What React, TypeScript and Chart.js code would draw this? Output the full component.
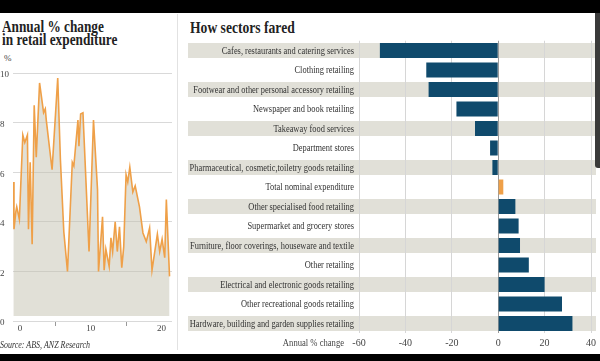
import React, { useEffect, useRef } from 'react';
import { Chart, registerables } from 'chart.js';

Chart.register(...registerables);

// ---------- Left panel: annual % change in retail expenditure ----------
const retailPeriods = [
  -0.95, -0.86, -0.6, -0.47, -0.1, 0.39, 0.67, 1.04, 1.19, 1.43, 1.71, 2.0, 2.29, 2.76,
  3.33, 3.57, 3.71, 4.53, 5.33, 5.71, 6.19, 6.71, 7.39, 7.61, 8.19, 8.33, 8.57, 8.9,
  9.76, 10.39, 10.96, 11.1, 11.67, 11.9, 12.14, 12.61, 12.86, 13.1, 13.46, 13.76, 14.07,
  14.39, 14.67, 15.0, 15.24, 15.53, 15.96, 16.29, 16.9, 17.39, 17.86, 18.33, 18.67,
  19.43, 19.76, 20.1, 20.47, 20.7, 21.15,
];
const retailGrowth = [
  5.6, 3.7, 4.4, 4.6, 4.1, 7.5, 7.2, 7.5, 3.7, 6.4, 3.1, 8.7, 6.6, 9.6,
  8.4, 8.55, 8.1, 6.1, 9.8, 6.5, 3.6, 2.0, 6.4, 6.25, 8.1, 7.05, 8.35, 8.4,
  2.8, 8.1, 5.3, 2.0, 4.2, 2.05, 2.9, 2.2, 3.35, 2.8, 4.0, 2.8, 3.8,
  2.15, 3.0, 5.9, 5.6, 6.2, 5.2, 5.45, 4.6, 3.55, 3.2, 3.75, 2.05,
  3.5, 2.8, 3.3, 2.55, 4.9, 1.8,
];
const retailXTicks = [0, 5, 10, 15, 20];
const retailXLabels = ['0', '', '10', '', '20'];
const retailYTicks = [0, 2, 4, 6, 8, 10];

// ---------- Right panel: how sectors fared ----------
const sectors = [
  'Cafes, restaurants and catering services',
  'Clothing retailing',
  'Footwear and other personal accessory retailing',
  'Newspaper and book retailing',
  'Takeaway food services',
  'Department stores',
  'Pharmaceutical, cosmetic,toiletry goods retailing',
  'Total nominal expenditure',
  'Other specialised food retailing',
  'Supermarket and grocery stores',
  'Furniture, floor coverings, houseware and textile',
  'Other retailing',
  'Electrical and electronic goods retailing',
  'Other recreational goods retailing',
  'Hardware, building and garden supplies retailing',
];
const sectorChange = [-51, -31, -30, -18, -10, -3.5, -2.5, 2.2, 7.4, 8.8, 9.4, 13.2, 20, 27.5, 32];
const sectorXTicks = [-60, -40, -20, 0, 20, 40];
const highlightSector = 'Total nominal expenditure';

const SERIF = '"Liberation Serif", "Times New Roman", serif';
const ORANGE = '#efa048';
const NAVY = '#0f4a6c';
const BAND = '#e1e0d8';
const TEXT = '#333333';

function RetailLine() {
  const ref = useRef<HTMLCanvasElement>(null);
  useEffect(() => {
    if (!ref.current) return;
    const chart = new Chart(ref.current, {
      type: 'line',
      data: {
        datasets: [
          {
            data: retailPeriods.map((x, i) => ({ x, y: retailGrowth[i] })),
            borderColor: ORANGE,
            borderWidth: 1.6,
            pointRadius: 0,
            tension: 0,
            fill: { value: 0.2 },
            backgroundColor: 'rgba(196,194,176,0.5)',
          },
        ],
      },
      options: {
        animation: false,
        responsive: false,
        maintainAspectRatio: false,
        layout: { padding: { top: 11, right: 4, left: 0, bottom: 0 } },
        plugins: { legend: { display: false }, tooltip: { enabled: false } },
        scales: {
          x: {
            type: 'linear',
            min: -1,
            max: 21.5,
            afterBuildTicks: (s: any) => {
              s.ticks = retailXTicks.map((v) => ({ value: v }));
            },
            ticks: {
              autoSkip: false,
              maxRotation: 0,
              padding: -3,
              color: '#444',
              font: { family: SERIF, size: 9 },
              callback: (v: any) => {
                const i = retailXTicks.indexOf(Number(v));
                return i >= 0 ? retailXLabels[i] : '';
              },
            },
            grid: {
              drawOnChartArea: false,
              tickLength: 5,
              color: (ctx: any) =>
                ctx.tick && retailXLabels[retailXTicks.indexOf(ctx.tick.value)] === '' ? '#999' : 'rgba(0,0,0,0)',
            },
            border: { display: false },
            afterFit: (s: any) => {
              s.height = 22;
            },
          },
          y: {
            min: 0,
            max: 10,
            afterBuildTicks: (s: any) => {
              s.ticks = retailYTicks.map((v) => ({ value: v }));
            },
            ticks: {
              padding: 0,
              crossAlign: 'far',
              labelOffset: 2,
              color: '#444',
              font: { family: SERIF, size: 9 },
            },
            grid: { color: '#d9d9d9', drawTicks: false },
            border: { display: false },
            afterFit: (s: any) => {
              s.width = 13;
            },
          },
        },
      },
    });
    return () => chart.destroy();
  }, []);
  return (
    <canvas
      ref={ref}
      width={176}
      height={281}
      style={{ position: 'absolute', left: 0, top: 62, width: 176, height: 281 }}
    />
  );
}

const sectorPlugin = {
  id: 'sectorBandsLabels',
  beforeDraw(chart: any) {
    const { ctx, chartArea } = chart;
    const y = chart.scales.y;
    ctx.save();
    ctx.fillStyle = BAND;
    sectors.forEach((_, i) => {
      if (i % 2 === 0) {
        const yc = y.getPixelForValue(i);
        ctx.fillRect(10, yc - 7.5, chartArea.right + 5 - 10, 15);
      }
    });
    ctx.restore();
  },
  afterDraw(chart: any) {
    const { ctx, chartArea } = chart;
    const y = chart.scales.y;
    ctx.save();
    ctx.fillStyle = TEXT;
    ctx.font = `10px ${SERIF}`;
    ctx.textAlign = 'right';
    ctx.textBaseline = 'middle';
    sectors.forEach((label, i) => {
      const yc = y.getPixelForValue(i);
      ctx.save();
      ctx.translate(176, yc);
      ctx.scale(0.84, 1);
      ctx.fillText(label, 0, 0.5);
      ctx.restore();
    });
    ctx.save();
    ctx.fillStyle = '#444';
    ctx.translate(166, chartArea.bottom + 10);
    ctx.scale(0.86, 1);
    ctx.fillText('Annual % change', 0, 0);
    ctx.restore();
    ctx.restore();
  },
};

function SectorBars() {
  const ref = useRef<HTMLCanvasElement>(null);
  useEffect(() => {
    if (!ref.current) return;
    const chart = new Chart(ref.current, {
      type: 'bar',
      data: {
        labels: sectors,
        datasets: [
          {
            data: sectorChange,
            backgroundColor: sectors.map((s) => (s === highlightSector ? ORANGE : NAVY)),
            borderWidth: 0,
            categoryPercentage: 1,
            barPercentage: 0.77,
          },
        ],
      },
      options: {
        indexAxis: 'y',
        animation: false,
        responsive: false,
        maintainAspectRatio: false,
        layout: { padding: { top: 2.75, right: 8.5, left: 0, bottom: 0 } },
        plugins: { legend: { display: false }, tooltip: { enabled: false } },
        scales: {
          x: {
            min: -60,
            max: 40,
            afterBuildTicks: (s: any) => {
              s.ticks = sectorXTicks.map((v) => ({ value: v }));
            },
            ticks: {
              padding: 4,
              maxRotation: 0,
              color: '#444',
              font: { family: SERIF, size: 10 },
            },
            grid: {
              drawTicks: false,
              color: (ctx: any) => (ctx.tick && ctx.tick.value === 0 ? '#9a9a9a' : '#d6d6d6'),
            },
            border: { display: false },
            afterFit: (s: any) => {
              s.height = 14.75;
            },
          },
          y: {
            ticks: { display: false },
            grid: { display: false },
            border: { display: false },
            afterFit: (s: any) => {
              s.width = 181;
            },
          },
        },
      },
      plugins: [sectorPlugin],
    });
    return () => chart.destroy();
  }, []);
  return (
    <canvas
      ref={ref}
      width={422}
      height={310}
      style={{ position: 'absolute', left: 178, top: 38, width: 422, height: 310 }}
    />
  );
}

export default function App() {
  const condensed = (s: number, origin = 'left top') => ({
    transform: `scaleX(${s})`,
    transformOrigin: origin,
    whiteSpace: 'nowrap' as const,
  });
  return (
    <div
      style={{
        position: 'fixed',
        left: 0,
        top: 0,
        width: 600,
        height: 361,
        background: '#fff',
        overflow: 'hidden',
        fontFamily: SERIF,
        color: '#222',
      }}
    >
      <div
        style={{
          position: 'absolute',
          left: 2,
          top: 19.5,
          fontSize: 16,
          lineHeight: '13.5px',
          fontWeight: 'bold',
          ...condensed(0.83),
        }}
      >
        <div>Annual % change</div>
        <div>in retail expenditure</div>
      </div>
      <div style={{ position: 'absolute', left: 4, top: 53, fontSize: 9, lineHeight: '10px', color: '#444' }}>%</div>
      <RetailLine />
      <div
        style={{
          position: 'absolute',
          left: 0,
          top: 339.5,
          fontSize: 9.5,
          lineHeight: '10px',
          fontStyle: 'italic',
          color: '#333',
          ...condensed(0.84),
        }}
      >
        Source: ABS, ANZ Research
      </div>
      <div style={{ position: 'absolute', left: 177, top: 14, width: 1, height: 336, background: '#e2e2e2' }} />
      <div
        style={{
          position: 'absolute',
          left: 190,
          top: 20,
          fontSize: 16,
          lineHeight: '16px',
          fontWeight: 'bold',
          ...condensed(0.85),
        }}
      >
        How sectors fared
      </div>
      <SectorBars />
      <div style={{ position: 'absolute', left: 0, top: 0, width: 600, height: 13, background: '#000' }} />
      <div style={{ position: 'absolute', left: 0, top: 354, width: 600, height: 7, background: '#000' }} />
      <div
        style={{
          position: 'absolute',
          left: 595,
          top: 13,
          width: 5,
          height: 155,
          background: '#3a3a3a',
          borderBottomLeftRadius: 3,
        }}
      />
    </div>
  );
}
